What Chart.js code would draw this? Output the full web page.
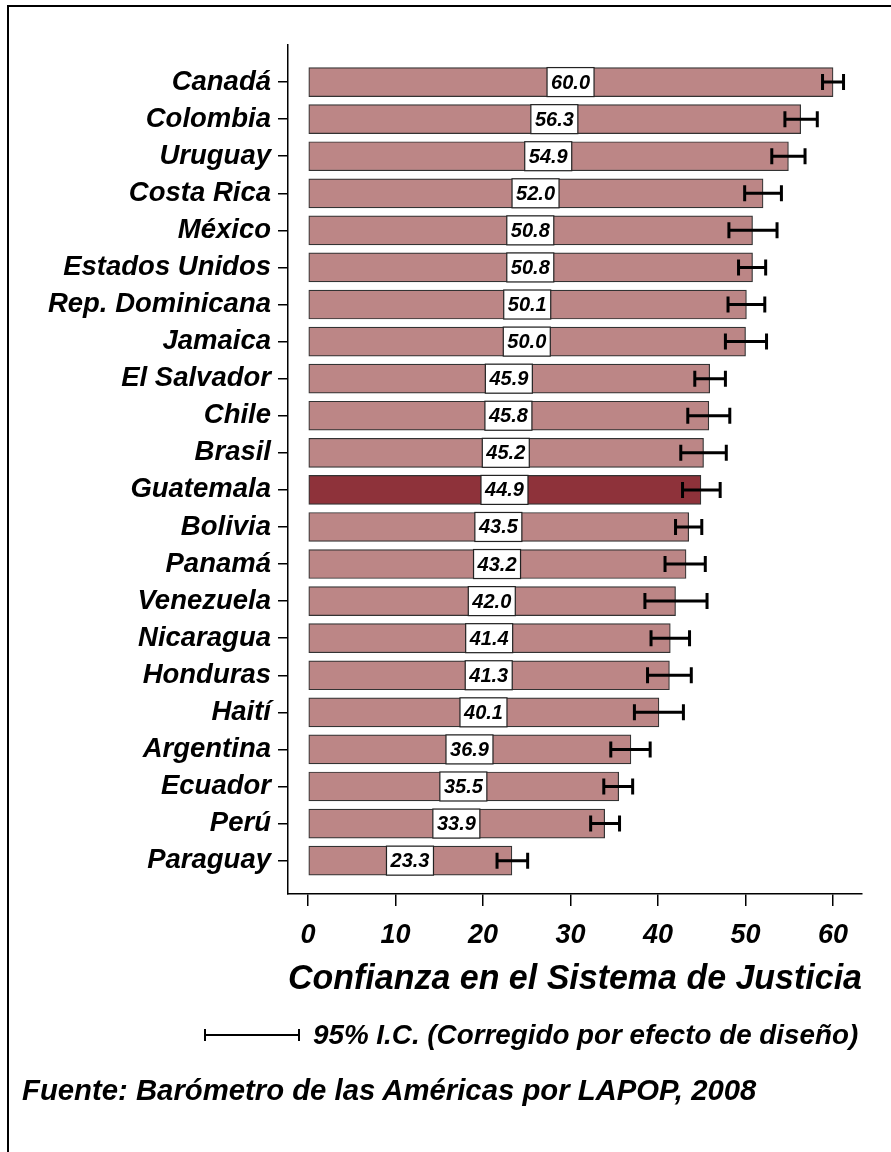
<!DOCTYPE html>
<html>
<head>
<meta charset="utf-8">
<script src="https://cdn.jsdelivr.net/npm/chart.js@4/dist/chart.umd.min.js"></script>
<style>
  body { margin: 0; background: #fff; }
  #wrap { position: relative; width: 891px; height: 1152px; overflow: hidden; }
  #frame { position: absolute; left: 7px; top: 5px; width: 900px; height: 1160px;
           border-left: 2px solid #000; border-top: 2px solid #000; }
  canvas { position: absolute; left: 0; top: 0; }
  .note { position: absolute; font-family: "Liberation Sans", Arial, sans-serif;
          font-weight: bold; font-style: italic; color: #000; white-space: nowrap; }
  #ciKey { left: 204px; top: 1019px; height: 32px; font-size: 27.8px;
           display: flex; align-items: center; }
  #ciKey .bar { display: inline-block; width: 92px; height: 12px; margin-right: 13px;
                border-left: 2px solid #000; border-right: 2px solid #000;
                background: linear-gradient(#000, #000) center / 100% 2px no-repeat; }
  #source { left: 22px; top: 1073px; font-size: 29.3px; }
</style>
</head>
<body>
<div id="wrap">
  <div id="frame"></div>
  <canvas id="JusticeCanvas" width="891" height="1152"></canvas>
  <div class="note" id="ciKey"><span class="bar"></span>95% I.C. (Corregido por efecto de diseño)</div>
  <div class="note" id="source">Fuente: Barómetro de las Américas por LAPOP, 2008</div>
</div>
<script>
// Confianza en el sistema de justicia, 2008
const countries = ["Canadá", "Colombia", "Uruguay", "Costa Rica", "México", "Estados Unidos",
    "Rep. Dominicana", "Jamaica", "El Salvador", "Chile", "Brasil", "Guatemala", "Bolivia",
    "Panamá", "Venezuela", "Nicaragua", "Honduras", "Haití", "Argentina", "Ecuador", "Perú", "Paraguay"];
const scores = [60.0, 56.3, 54.9, 52.0, 50.8, 50.8, 50.1, 50.0, 45.9, 45.8, 45.2, 44.9, 43.5,
    43.2, 42.0, 41.4, 41.3, 40.1, 36.9, 35.5, 33.9, 23.3];
// 95% confidence interval limits
const ciLow = [58.8, 54.5, 53.0, 49.9, 48.1, 49.2, 48.0, 47.7, 44.2, 43.4, 42.6, 42.8, 42.0,
    40.8, 38.5, 39.2, 38.8, 37.3, 34.6, 33.8, 32.3, 21.6];
const ciHigh = [61.2, 58.2, 56.8, 54.1, 53.6, 52.3, 52.2, 52.4, 47.7, 48.2, 47.8, 47.1, 45.0,
    45.4, 45.6, 43.6, 43.8, 42.9, 39.1, 37.1, 35.6, 25.1];
const xTicks = [0, 10, 20, 30, 40, 50, 60];
const highlighted = "Guatemala";

const FONT = "'Liberation Sans', Arial, sans-serif";
const barColor = "#bc8686";
const highlightColor = "#8e323a";

// white value boxes in the middle of each bar
const valueBoxes = {
    id: "valueBoxes",
    afterDatasetsDraw(chart) {
        const ctx = chart.ctx;
        const xs = chart.scales.x, ys = chart.scales.y;
        const bars = chart.getDatasetMeta(0).data;
        ctx.save();
        ctx.font = "italic bold 20px " + FONT;
        ctx.textAlign = "center";
        ctx.textBaseline = "middle";
        scores.forEach((v, i) => {
            const cx = xs.getPixelForValue(v / 2);
            const cy = ys.getPixelForValue(i);
            const h = bars[i].height;
            const w = 47;
            ctx.fillStyle = "#fff";
            ctx.fillRect(cx - w / 2, cy - h / 2, w, h);
            ctx.strokeStyle = "#222";
            ctx.lineWidth = 1.2;
            ctx.strokeRect(cx - w / 2, cy - h / 2, w, h);
            ctx.fillStyle = "#000";
            ctx.fillText(v.toFixed(1), cx, cy + 1);
        });
        ctx.restore();
    }
};

// confidence interval whiskers
const errorBars = {
    id: "errorBars",
    afterDatasetsDraw(chart) {
        const ctx = chart.ctx;
        const xs = chart.scales.x, ys = chart.scales.y;
        ctx.save();
        ctx.strokeStyle = "#000";
        ctx.lineWidth = 3;
        ciLow.forEach((lo, i) => {
            const x1 = xs.getPixelForValue(lo);
            const x2 = xs.getPixelForValue(ciHigh[i]);
            const y = ys.getPixelForValue(i);
            ctx.beginPath();
            ctx.moveTo(x1, y); ctx.lineTo(x2, y);
            ctx.moveTo(x1, y - 8); ctx.lineTo(x1, y + 8);
            ctx.moveTo(x2, y - 8); ctx.lineTo(x2, y + 8);
            ctx.stroke();
        });
        ctx.restore();
    }
};

function initJusticeChart(){
    const ctx = document.getElementById("JusticeCanvas").getContext("2d");

    new Chart(ctx, {
        type: "bar",
        data: {
            datasets: [{
                data: scores.map((v, i) => ({ x: v, y: i })),
                backgroundColor: countries.map(c => c === highlighted ? highlightColor : barColor),
                borderColor: "#333",
                borderWidth: 1.2,
                borderSkipped: false,
                barThickness: 29
            }]
        },
        options: {
            indexAxis: "y",
            animation: false,
            responsive: false,
            layout: { padding: { top: 45, right: 29, left: 0, bottom: 0 } },
            plugins: { legend: { display: false }, tooltip: { enabled: false } },
            scales: {
                y: {
                    type: "linear",
                    reverse: true,
                    offset: false,
                    min: -1,
                    max: 21.9,
                    afterBuildTicks: s => { s.ticks = countries.map((_, i) => ({ value: i })); },
                    afterFit: s => { s.width = 288; },
                    ticks: {
                        autoSkip: false,
                        padding: 7,
                        color: "#000",
                        font: { family: FONT, size: 27.5, weight: "bold", style: "italic" },
                        callback: v => countries[v]
                    },
                    grid: { offset: false, drawOnChartArea: false, tickLength: 10, color: "#000", lineWidth: 1.5 },
                    border: { color: "#000", width: 1.5 }
                },
                x: {
                    type: "linear",
                    min: -2.29,
                    max: 63.31,
                    afterBuildTicks: s => { s.ticks = xTicks.map(v => ({ value: v })); },
                    afterFit: s => { s.height = 1152 - 894; },
                    ticks: {
                        autoSkip: false,
                        maxRotation: 0,
                        padding: 13,
                        color: "#000",
                        font: { family: FONT, size: 27, weight: "bold", style: "italic" }
                    },
                    grid: { drawOnChartArea: false, tickLength: 12, color: "#000", lineWidth: 1.5 },
                    border: { color: "#000", width: 1.5 },
                    title: {
                        display: true,
                        text: "Confianza en el Sistema de Justicia",
                        align: "end",
                        color: "#000",
                        padding: { top: 0, bottom: 151 },
                        font: { family: FONT, size: 35.5, style: "italic", weight: "bold" }
                    }
                }
            }
        },
        plugins: [valueBoxes, errorBars]
    });
}

window.addEventListener("load", initJusticeChart);
</script>
</body>
</html>
